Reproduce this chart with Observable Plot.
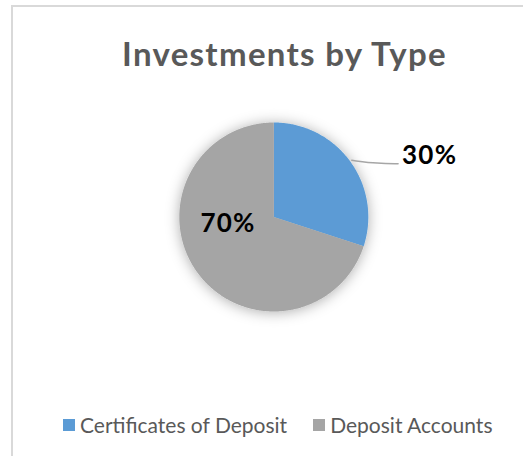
<!DOCTYPE html>
<html><head><meta charset="utf-8">
<script src="https://cdn.jsdelivr.net/npm/d3@7"></script>
<script src="https://cdn.jsdelivr.net/npm/@observablehq/plot@0.6"></script>
<style>
html,body{margin:0;padding:0;background:#fff}
body{width:523px;height:456px;position:relative;overflow:hidden;font-family:Lato,"Open Sans",sans-serif}
#frame{position:absolute;left:11px;top:5px;width:580px;height:500px;border:2px solid #d9d9d9;box-sizing:border-box}
#title{position:absolute;left:11px;width:547px;top:33px;text-align:center;font-weight:bold;font-size:33px;letter-spacing:1.3px;color:#595959;white-space:nowrap}
#chart{position:absolute;left:0;top:100px}
#legend{position:absolute;left:63px;top:412px;display:flex;align-items:center;font-size:21px;color:#595959;white-space:nowrap}
.item{display:flex;align-items:center;margin-right:26px}
.sw{width:12px;height:12px;margin-right:5px}
</style>
</head><body>
<div id="frame"></div>
<div id="title">Investments by Type</div>
<div id="chart"></div>
<div id="legend"></div>
<script>
const categories = ["Certificates of Deposit", "Deposit Accounts"];
const values = [30, 70];
const labels = ["30%", "70%"];
const colors = ["#5B9BD5", "#A5A5A5"];

const W = 523, H = 300, R = 94.5, CX = 273.3, CY = 116.5;
const xDomain = [-CX / R, (W - CX) / R];
const yDomain = [-(H - CY) / R, CY / R];

const arcs = d3.pie().sort(null).value(d => d.value)(
  categories.map((c, i) => ({category: c, value: values[i], label: labels[i], color: colors[i]}))
);

// polygon outline of each slice from its pie angles
const slicePts = [];
arcs.forEach((a, i) => {
  const n = Math.max(2, Math.ceil((a.endAngle - a.startAngle) / 0.01));
  slicePts.push({k: i, x: 0, y: 0, color: a.data.color});
  for (let j = 0; j <= n; j++) {
    const t = a.startAngle + (a.endAngle - a.startAngle) * j / n;
    slicePts.push({k: i, x: Math.sin(t), y: Math.cos(t), color: a.data.color});
  }
  slicePts.push({k: i, x: 0, y: 0, color: a.data.color});
});

const mid = a => (a.startAngle + a.endAngle) / 2;
// outside label (small slice) with leader line
const outA = arcs[0];
const s = {x: Math.sin(mid(outA)) * 1.02, y: Math.cos(mid(outA)) * 1.02};
const leader = [
  {x: s.x, y: s.y},
  {x: s.x + 0.28, y: s.y - 0.035},
  {x: s.x + 0.49, y: s.y - 0.035}
];
const outLabel = [{x: leader[2].x, y: leader[2].y, label: outA.data.label}];
// inside label (big slice)
const inA = arcs[1];
const inLabel = [{x: Math.sin(mid(inA)) * 0.6, y: Math.cos(mid(inA)) * 0.6, label: inA.data.label}];

const plot = Plot.plot({
  width: W, height: H,
  margin: 0,
  x: {domain: xDomain, axis: null},
  y: {domain: yDomain, axis: null},
  color: {type: "identity"},
  marks: [
    Plot.line(slicePts, {x: "x", y: "y", z: "k", fill: "color", stroke: "none", curve: "linear"}),
    Plot.line(leader, {x: "x", y: "y", stroke: "#a6a6a6", strokeWidth: 1.5, curve: "basis"}),
    Plot.text(outLabel, {x: "x", y: "y", text: "label", textAnchor: "start", dx: 4, dy: -8, fontSize: 26, fontWeight: "bold", fill: "#000", style: "letter-spacing:1.2px"}),
    Plot.text(inLabel, {x: "x", y: "y", text: "label", dy: -27, fontSize: 26, fontWeight: "bold", fill: "#000"})
  ]
});
plot.style.fontFamily = 'Lato, "Open Sans", sans-serif';
plot.style.overflow = "visible";
d3.select(plot).selectAll("text").style("letter-spacing", "1.2px");
// soft shadow under the pie
const defs = d3.select(plot).insert("defs", ":first-child");
const f = defs.append("filter").attr("id", "pieShadow").attr("x", "-30%").attr("y", "-30%").attr("width", "160%").attr("height", "160%");
f.append("feDropShadow").attr("dx", 0).attr("dy", 1).attr("stdDeviation", 7).attr("flood-color", "#000").attr("flood-opacity", 0.32);
d3.select(plot).select("g[aria-label=line]").attr("filter", "url(#pieShadow)");
document.getElementById("chart").appendChild(plot);

const legend = d3.select("#legend");
categories.forEach((c, i) => {
  const it = legend.append("div").attr("class", "item");
  it.append("div").attr("class", "sw").style("background", colors[i]);
  it.append("span").text(c);
});
</script>
</body></html>
